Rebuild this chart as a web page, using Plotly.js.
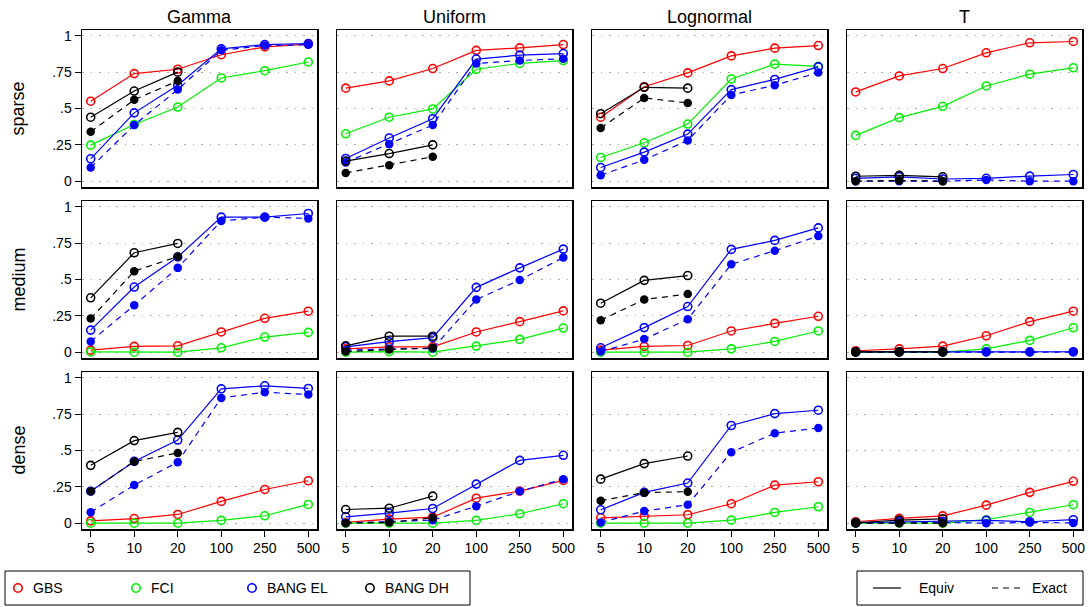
<!DOCTYPE html>
<html>
<head>
<meta charset="utf-8">
<script src="https://cdn.plot.ly/plotly-3.0.1.min.js"></script>
<style>html,body{margin:0;padding:0;background:#fff;}#chart{width:1089px;height:607px;}</style>
</head>
<body>
<div id="chart"></div>
<script>
// ---------- data ----------
const xLabels = ['5', '10', '20', '100', '250', '500'];
const distNames = ['Gamma', 'Uniform', 'Lognormal', 'T'];
const densityNames = ['sparse', 'medium', 'dense'];
const yTickVals = [0, 0.25, 0.5, 0.75, 1];
const yTickText = ['0', '.25', '.5', '.75', '1'];
const seriesNames = ['GBS', 'FCI', 'BANG EL', 'BANG DH'];
const typeNames = ['Equiv', 'Exact'];

// each array: one row per distribution (Gamma, Uniform, Lognormal, T)
const gbsSparse = [[.55, .74, .77, .87, .924, .943], [.64, .69, .775, .90, .917, .94], [.44, .65, .745, .862, .915, .933], [.614, .724, .775, .883, .952, .961]];
const fciSparse = [[.248, .39, .51, .71, .76, .82], [.326, .44, .497, .77, .81, .83], [.163, .264, .393, .703, .805, .79], [.315, .437, .515, .655, .736, .78]];
const elEquivSparse = [[.154, .47, .66, .91, .94, .947], [.156, .297, .43, .84, .867, .878], [.094, .2, .324, .63, .70, .786], [.02, .03, .015, .02, .035, .046]];
const elExactSparse = [[.094, .386, .63, .90, .933, .938], [.129, .255, .386, .81, .83, .843], [.041, .147, .28, .593, .66, .747], [0, 0, 0, .008, 0, 0]];
const dhEquivSparse = [[.44, .62, .75], [.138, .19, .25], [.464, .646, .64], [.034, .04, .03]];
const dhExactSparse = [[.34, .56, .69], [.057, .11, .168], [.366, .572, .538], [0, .005, 0]];

const gbsMedium = [[.014, .04, .044, .139, .233, .282], [.023, .037, .037, .139, .21, .284], [.014, .04, .046, .146, .198, .247], [.01, .023, .042, .113, .21, .282]];
const fciMedium = [[.002, 0, 0, .03, .104, .136], [0, .004, 0, .042, .088, .166], [0, 0, 0, .023, .074, .146], [0, 0, 0, .023, .081, .168]];
const elEquivMedium = [[.152, .448, .655, .929, .929, .954], [.037, .072, .1, .446, .58, .709], [.03, .169, .314, .707, .769, .855], [.002, .002, .003, .002, .002, .003]];
const elExactMedium = [[.074, .323, .58, .903, .929, .92], [.014, .023, .025, .362, .497, .651], [.004, .09, .226, .605, .698, .799], [0, 0, 0, 0, 0, 0]];
const dhEquivMedium = [[.374, .684, .748], [.044, .11, .11], [.337, .494, .527], [.002, .003, .003]];
const dhExactMedium = [[.231, .557, .658], [.004, .018, .03], [.22, .362, .40], [0, 0, 0]];

const gbsDense = [[.016, .032, .06, .15, .232, .292], [.005, .028, .041, .172, .221, .294], [.037, .048, .058, .134, .262, .285], [.01, .033, .05, .124, .212, .288]];
const fciDense = [[0, 0, 0, .019, .051, .129], [0, 0, 0, .019, .065, .134], [0, 0, 0, .021, .074, .113], [0, 0, 0, .024, .074, .127]];
const elEquivDense = [[.22, .425, .572, .924, .945, .927], [.044, .069, .101, .269, .432, .467], [.092, .212, .276, .672, .754, .777], [.003, .01, .012, .019, .01, .024]];
const elExactDense = [[.076, .262, .42, .862, .901, .885], [.001, .012, .021, .117, .219, .303], [.005, .083, .127, .488, .619, .655], [0, .002, .005, 0, .005, .002]];
const dhEquivDense = [[.398, .568, .625], [.094, .103, .186], [.303, .41, .462], [.003, .021, .03]];
const dhExactDense = [[.22, .425, .483], [0, .005, .037], [.155, .21, .217], [0, 0, 0]];

// ---------- styling ----------
const FONT = 'Liberation Sans, Arial, Helvetica, sans-serif';
const W = 1089, H = 607;
const colors = ['#ff0000', '#00f000', '#0000ff', '#000000'];
const colLeft = [82, 337, 592, 847], colW = 235;
const rowTop = [30, 201, 372], rowH = 157;

const seriesData = [
  {equiv: [gbsSparse, gbsMedium, gbsDense], exact: null},
  {equiv: [fciSparse, fciMedium, fciDense], exact: null},
  {equiv: [elEquivSparse, elEquivMedium, elEquivDense], exact: [elExactSparse, elExactMedium, elExactDense]},
  {equiv: [dhEquivSparse, dhEquivMedium, dhEquivDense], exact: [dhExactSparse, dhExactMedium, dhExactDense]}
];

const traces = [];
const layout = {
  width: W, height: H,
  margin: {l: 0, r: 0, t: 0, b: 0},
  paper_bgcolor: '#fff', plot_bgcolor: '#fff',
  showlegend: false,
  font: {family: FONT, size: 14, color: '#000'},
  annotations: [], shapes: []
};

for (let r = 0; r < 3; r++) {
  for (let c = 0; c < 4; c++) {
    const k = r * 4 + c + 1;
    const xa = k === 1 ? 'x' : 'x' + k, ya = k === 1 ? 'y' : 'y' + k;
    const bottom = r === 2, left = c === 0;
    layout['xaxis' + (k === 1 ? '' : k)] = {
      domain: [colLeft[c] / W, (colLeft[c] + colW) / W],
      anchor: ya, type: 'category', categoryorder: 'array', categoryarray: xLabels,
      range: [-0.2, 5.2], showgrid: false, zeroline: false,
      showline: true, mirror: true, linecolor: '#000', linewidth: 1.5,
      ticks: bottom ? 'outside' : '', ticklen: 6, tickwidth: 1, tickcolor: '#000',
      showticklabels: bottom, tickfont: {family: FONT, size: 14, color: '#000'}
    };
    layout['yaxis' + (k === 1 ? '' : k)] = {
      domain: [1 - (rowTop[r] + rowH) / H, 1 - rowTop[r] / H],
      anchor: xa, range: [-0.04, 1.04], tickvals: yTickVals, ticktext: yTickText,
      showgrid: true, gridcolor: '#a8a8a8', griddash: '1.5px,7px', gridwidth: 1.2, zeroline: false,
      showline: true, mirror: true, linecolor: '#000', linewidth: 1.5,
      ticks: left ? 'outside' : '', ticklen: 6, tickwidth: 1, tickcolor: '#000',
      showticklabels: left, tickfont: {family: FONT, size: 14, color: '#000'}
    };
    seriesData.forEach((s, si) => {
      const eq = s.equiv[r][c];
      traces.push({
        type: 'scatter', mode: 'lines+markers', xaxis: xa, yaxis: ya,
        name: seriesNames[si] + ' ' + typeNames[0],
        x: xLabels.slice(0, eq.length), y: eq,
        line: {color: colors[si], width: 1.2},
        marker: {symbol: 'circle-open', size: 8, color: colors[si], line: {width: 1.6, color: colors[si]}},
        cliponaxis: false
      });
      if (s.exact) {
        const ex = s.exact[r][c];
        traces.push({
          type: 'scatter', mode: 'lines+markers', xaxis: xa, yaxis: ya,
          name: seriesNames[si] + ' ' + typeNames[1],
          x: xLabels.slice(0, ex.length), y: ex,
          line: {color: colors[si], width: 1.2, dash: '6px,5px'},
          marker: {symbol: 'circle', size: 8.5, color: colors[si]},
          cliponaxis: false
        });
      }
    });
  }
}

// column titles
distNames.forEach((d, c) => {
  layout.annotations.push({
    xref: 'paper', yref: 'paper', x: (colLeft[c] + colW / 2) / W, y: 1 - 17 / H,
    xanchor: 'center', yanchor: 'middle', showarrow: false,
    text: d, font: {family: FONT, size: 18, color: '#000'}
  });
});
// row labels
densityNames.forEach((d, r) => {
  layout.annotations.push({
    xref: 'paper', yref: 'paper', x: 18 / W, y: 1 - (rowTop[r] + rowH / 2) / H,
    xanchor: 'center', yanchor: 'middle', showarrow: false, textangle: -90,
    text: d, font: {family: FONT, size: 18, color: '#000'}
  });
});

// legend boxes
const legY = 588;
layout.shapes.push({type: 'rect', xref: 'paper', yref: 'paper', x0: 5 / W, x1: 470 / W, y0: 1 - 605 / H, y1: 1 - 571 / H, line: {color: '#000', width: 1}, fillcolor: 'rgba(0,0,0,0)'});
layout.shapes.push({type: 'rect', xref: 'paper', yref: 'paper', x0: 857 / W, x1: 1083 / W, y0: 1 - 605 / H, y1: 1 - 571 / H, line: {color: '#000', width: 1}, fillcolor: 'rgba(0,0,0,0)'});
const legMarkX = [18, 136, 252, 370];
seriesNames.forEach((n, i) => {
  layout.shapes.push({
    type: 'circle', xref: 'paper', yref: 'paper', xsizemode: 'pixel', ysizemode: 'pixel',
    xanchor: legMarkX[i] / W, yanchor: 1 - legY / H, x0: -4.2, x1: 4.2, y0: -4.2, y1: 4.2,
    line: {color: colors[i], width: 1.6}, fillcolor: 'rgba(0,0,0,0)'
  });
  layout.annotations.push({
    xref: 'paper', yref: 'paper', x: (legMarkX[i] + 13) / W, y: 1 - legY / H,
    xanchor: 'left', yanchor: 'middle', showarrow: false, text: n,
    font: {family: FONT, size: 14, color: '#000'}
  });
});
const lineLeg = [{x0: 873, x1: 901, dash: 'solid', tx: 917}, {x0: 992, x1: 1020, dash: '6px,5px', tx: 1030}];
lineLeg.forEach((l, i) => {
  layout.shapes.push({type: 'line', xref: 'paper', yref: 'paper', x0: l.x0 / W, x1: l.x1 / W, y0: 1 - legY / H, y1: 1 - legY / H, line: {color: '#000', width: 1.2, dash: l.dash}});
  layout.annotations.push({
    xref: 'paper', yref: 'paper', x: l.tx / W, y: 1 - legY / H,
    xanchor: 'left', yanchor: 'middle', showarrow: false, text: typeNames[i],
    font: {family: FONT, size: 14, color: '#000'}
  });
});

Plotly.newPlot('chart', traces, layout, {staticPlot: true, displayModeBar: false});
</script>
</body>
</html>
